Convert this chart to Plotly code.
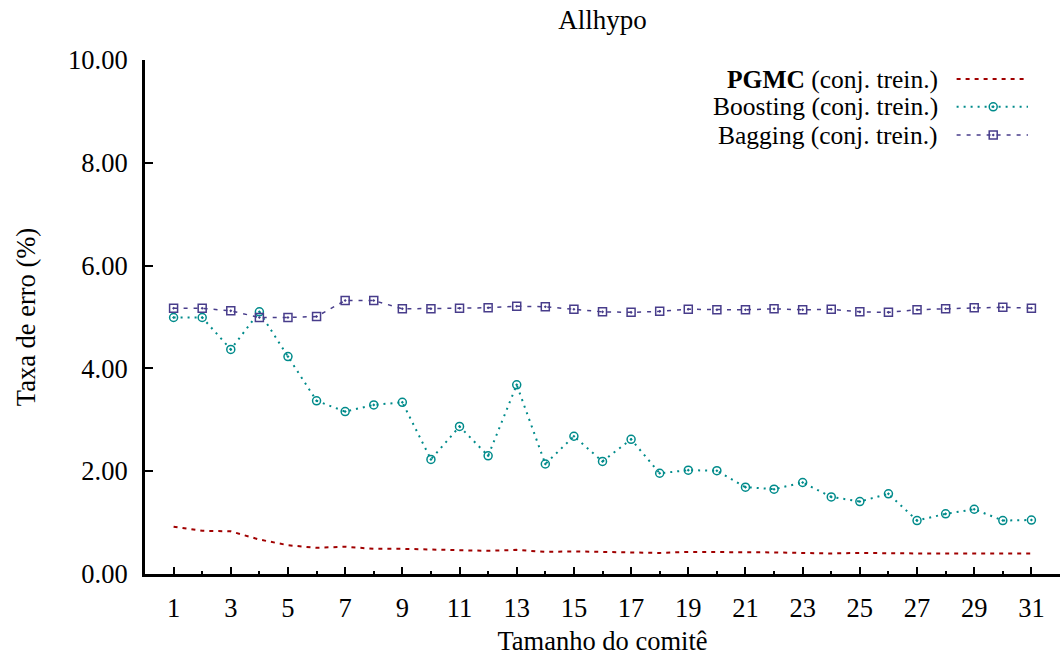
import plotly.graph_objects as go

# Committee sizes (x axis)
tamanho = list(range(1, 32))

# Training-set error rates (%)
pgmc = [0.92, 0.84, 0.83, 0.67, 0.56, 0.51, 0.53, 0.49, 0.49, 0.48,
        0.47, 0.45, 0.47, 0.43, 0.44, 0.43, 0.41, 0.41, 0.43, 0.43,
        0.42, 0.42, 0.41, 0.40, 0.41, 0.40, 0.40, 0.40, 0.40, 0.39, 0.40]
boosting = [4.99, 4.99, 4.37, 5.10, 4.23, 3.37, 3.16, 3.29, 3.34, 2.23,
            2.87, 2.30, 3.68, 2.14, 2.68, 2.19, 2.62, 1.96, 2.02, 2.01,
            1.69, 1.65, 1.78, 1.50, 1.41, 1.56, 1.04, 1.17, 1.26, 1.04, 1.05]
bagging = [5.17, 5.17, 5.12, 4.99, 4.99, 5.01, 5.32, 5.32, 5.16, 5.16,
           5.17, 5.18, 5.21, 5.20, 5.15, 5.10, 5.09, 5.11, 5.15, 5.14,
           5.14, 5.16, 5.14, 5.15, 5.10, 5.09, 5.14, 5.16, 5.18, 5.19, 5.17]

y_ticks = [0, 2, 4, 6, 8, 10]
y_tick_text = ["0.00", "2.00", "4.00", "6.00", "8.00", "10.00"]

RED = "#a00000"
CYAN = "#008b8b"
SLATE = "#483d8b"
FONT = "Liberation Serif"
FS = 26.5

fig = go.Figure()

fig.add_trace(go.Scatter(
    x=tamanho, y=pgmc, mode="lines",
    line=dict(color=RED, width=2, dash="4px,5px"),
    showlegend=False))
fig.add_trace(go.Scatter(
    x=tamanho, y=boosting, mode="lines+markers",
    line=dict(color=CYAN, width=2, dash="2px,5px"),
    marker=dict(symbol="circle-open-dot", size=8, color=CYAN,
                line=dict(width=1.5, color=CYAN)),
    showlegend=False))
fig.add_trace(go.Scatter(
    x=tamanho, y=bagging, mode="lines+markers",
    line=dict(color=SLATE, width=1.5, dash="4px,6px"),
    marker=dict(symbol="square-open-dot", size=8, color=SLATE,
                line=dict(width=1.5, color=SLATE)),
    showlegend=False))

# Key: label text on the left, line sample on the right
key_labels = ["<b>PGMC</b> (conj. trein.)", "Boosting (conj. trein.)", "Bagging (conj. trein.)"]
key_rows = [0.963, 0.909, 0.854]
key_styles = [
    (RED, "4px,5px", 2, None),
    (CYAN, "2px,5px", 2, "circle-open-dot"),
    (SLATE, "4px,6px", 1.5, "square-open-dot"),
]
key_x0, key_xm, key_x1 = 0.887, 0.927, 0.965
for label, yk, (col, dash, w, sym) in zip(key_labels, key_rows, key_styles):
    fig.add_annotation(x=0.869, y=yk, xref="paper", yref="paper",
                       text=label, showarrow=False, xanchor="right",
                       yanchor="middle", font=dict(family=FONT, size=25.5, color="black"))
    fig.add_trace(go.Scatter(
        x=[key_x0, key_x1], y=[yk, yk], xaxis="x2", yaxis="y2",
        mode="lines", line=dict(color=col, width=w, dash=dash),
        showlegend=False, hoverinfo="skip"))
    if sym:
        fig.add_trace(go.Scatter(
            x=[key_xm], y=[yk], xaxis="x2", yaxis="y2", mode="markers",
            marker=dict(symbol=sym, size=8, color=col, line=dict(width=1.5, color=col)),
            showlegend=False, hoverinfo="skip"))

fig.update_layout(
    width=1060, height=658,
    margin=dict(l=145, r=0, t=60, b=84),
    paper_bgcolor="white", plot_bgcolor="white",
    font=dict(family=FONT, size=FS, color="black"),
    title=dict(text="Allhypo", x=0.5, xref="paper", y=0.97, yref="container",
               xanchor="center", yanchor="middle",
               font=dict(family=FONT, size=27, color="black")),
    xaxis=dict(
        range=[0, 32], tick0=1, dtick=2, ticks="inside", ticklen=7, tickwidth=2,
        tickcolor="black", showline=True, linecolor="black", linewidth=3,
        showgrid=False, zeroline=False, ticklabelstandoff=8,
        minor=dict(tick0=2, dtick=2, ticks="inside", ticklen=3, tickwidth=2,
                   tickcolor="black", showgrid=False),
        title=dict(text="Tamanho do comitê", standoff=10,
                   font=dict(family=FONT, size=FS)),
    ),
    yaxis=dict(
        range=[0, 10], tickvals=y_ticks, ticktext=y_tick_text,
        ticks="inside", ticklen=8, tickwidth=2, tickcolor="black",
        showline=True, linecolor="black", linewidth=3,
        showgrid=False, zeroline=False, ticklabelstandoff=9,
        title=dict(text="Taxa de erro (%)", standoff=25,
                   font=dict(family=FONT, size=FS)),
    ),
    xaxis2=dict(range=[0, 1], overlaying="x", visible=False, fixedrange=True),
    yaxis2=dict(range=[0, 1], overlaying="y", visible=False, fixedrange=True),
)

fig.write_html("out.html")
